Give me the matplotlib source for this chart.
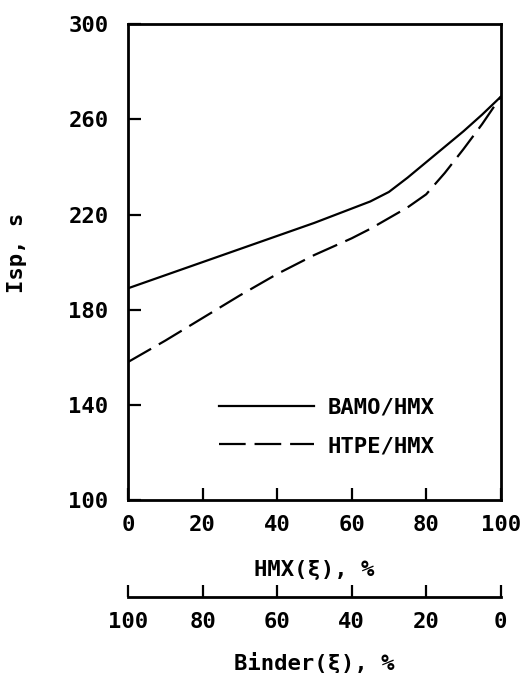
import matplotlib
matplotlib.use("Agg")
import matplotlib.pyplot as plt

# HMX content, % (binder = 100 - HMX)
hmx = [0, 10, 20, 30, 40, 50, 60, 65, 70, 75, 80, 85, 90, 95, 100]
isp_bamo = [189, 194.5, 200, 205.5, 211, 216.5, 222.5, 225.5, 229.5, 235.5, 242, 248.5, 255, 262, 269.5]
isp_htpe = [158, 167, 176.5, 186, 195, 203, 210, 214, 218.5, 223, 228.5, 237.5, 247.5, 258, 269.5]

yticks = [100, 140, 180, 220, 260, 300]
xticks = [0, 20, 40, 60, 80, 100]

plt.rcParams["font.family"] = "DejaVu Sans Mono"
plt.rcParams["font.weight"] = "bold"
plt.rcParams["font.size"] = 16

fig = plt.figure(figsize=(5.31, 6.73), dpi=100)
ax = fig.add_axes([0.241, 0.257, 0.702, 0.707])

ax.plot(hmx, isp_bamo, color="black", lw=1.6, label="BAMO/HMX")
ax.plot(hmx, isp_htpe, color="black", lw=1.6, dashes=(12, 4), label="HTPE/HMX")

ax.set_xlim(0, 100)
ax.set_ylim(100, 300)
ax.set_xticks(xticks)
ax.set_yticks(yticks)
ax.tick_params(direction="in", length=9, width=1.6, pad=11)
ax.tick_params(axis="y", pad=14)
for s in ax.spines.values():
    s.set_linewidth(2)

ax.set_xlabel("HMX(ξ), %", fontweight="bold")
ax.xaxis.set_label_coords(0.5, -0.125)
ax.set_ylabel("Isp, s", fontweight="bold")
ax.yaxis.set_label_coords(-0.27, 0.52)

ax.legend(loc="lower left", bbox_to_anchor=(0.19, 0.05), frameon=False,
          handlelength=4.3, handletextpad=0.6, labelspacing=0.85, fontsize=16)

sec = ax.secondary_xaxis(-0.204, functions=(lambda x: 100 - x, lambda x: 100 - x))
sec.set_xticks(xticks)
sec.tick_params(direction="in", length=9, width=1.6, pad=11)
sec.spines["bottom"].set_linewidth(2)
sec.set_xlabel("Binder(ξ), %", fontweight="bold", labelpad=14)

fig.savefig("out.png", dpi=100)
